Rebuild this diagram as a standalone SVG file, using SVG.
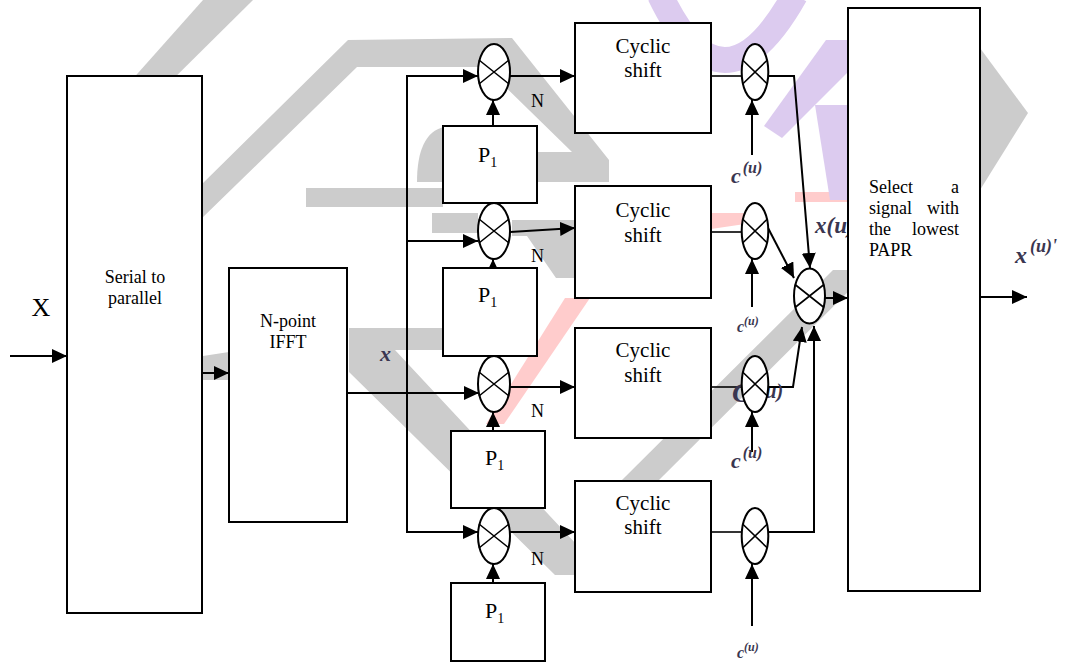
<svg xmlns="http://www.w3.org/2000/svg" width="1067" height="662" viewBox="0 0 1067 662">
<defs>
<marker id="ah" markerWidth="15" markerHeight="14" refX="15" refY="7" orient="auto" markerUnits="userSpaceOnUse"><path d="M0,0 L15,7 L0,14 Z" fill="#000"/></marker>
<style>
.box{fill:#fff;stroke:#000;stroke-width:2}
.mul{fill:#fff;stroke:#000;stroke-width:2}
.cr{stroke:#000;stroke-width:1.6;fill:none}
.ln{fill:none;stroke:#000;stroke-width:2}
.th{fill:none;stroke:#000;stroke-width:1.6}
.arr{marker-end:url(#ah)}
.t{font-family:"Liberation Serif","Times New Roman",serif;fill:#000}
.m{font-family:"Liberation Serif","Times New Roman",serif;font-style:italic;font-weight:bold;fill:#3a3650}
.wg{fill:#cccccc}
.wp{fill:#dccbef}
.wr{fill:#ffcccc}
</style>
</defs>
<rect width="1067" height="662" fill="#fff"/>
<g id="watermark">
<polygon class="wg" points="203,0 253,0 152,100 114,100"/>
<polygon class="wg" points="348,40 512,38 609,160 609,182 537,182 537,152 572,152 485,67 357,67 200,220 200,186"/>
<rect class="wg" x="306" y="188" width="137" height="19"/>
<path class="wg" d="M444,127 C426,131 417,150 417,182 L444,182 Z"/>
<polygon class="wg" points="432,213 478,213 478,233 432,233"/>
<polygon class="wg" points="512,220 575,220 575,278 556,278 527,236 512,236"/>
<polygon class="wg" points="349,328 443,328 443,350 395,350 577,545 577,575 555,575 349,372"/>
<polygon class="wg" points="203,356 229,352 229,380 203,380"/>
<polygon class="wg" points="620,482 657,482 870,270 833,270"/>
<polygon class="wg" points="980,48 1028,113 980,190"/>
<polygon class="wr" points="565,298 590,298 504,424 486,424"/>
<polygon class="wr" points="711,213 745,213 745,224 711,229"/>
<rect class="wr" x="795" y="192" width="53" height="10"/>
<path d="M660,-5 Q722,125 795,-5" stroke="#dccbef" stroke-width="26" fill="none"/>
<polygon class="wp" points="826,40 848,40 848,72 782,138 764,126"/>
<polygon class="wp" points="815,105 848,105 848,200 830,200"/>
</g>
<g id="connectors">
<line class="ln arr" x1="10" y1="356" x2="67" y2="356"/>
<line class="ln arr" x1="202" y1="373" x2="229" y2="373"/>
<line class="ln arr" x1="347" y1="393" x2="479" y2="393"/>
<line class="ln" x1="407" y1="75" x2="407" y2="533"/>
<line class="ln arr" x1="406" y1="76" x2="478" y2="76"/>
<line class="ln arr" x1="406" y1="241" x2="478" y2="241"/>
<line class="ln arr" x1="406" y1="532" x2="478" y2="532"/>
<line class="ln arr" x1="510" y1="76" x2="575" y2="76"/>
<line class="ln arr" x1="510" y1="232" x2="575" y2="228"/>
<line class="ln arr" x1="510" y1="387" x2="575" y2="387"/>
<line class="ln arr" x1="510" y1="532" x2="575" y2="532"/>
<line class="ln arr" x1="493" y1="126" x2="493" y2="100"/>
<line class="ln arr" x1="493" y1="276" x2="493" y2="259"/>
<line class="ln arr" x1="493" y1="431" x2="493" y2="412"/>
<line class="ln arr" x1="493" y1="583" x2="493" y2="564"/>
<line class="th" x1="711" y1="76" x2="742" y2="76"/>
<line class="th" x1="711" y1="232" x2="742" y2="232"/>
<line class="th" x1="711" y1="387" x2="742" y2="387"/>
<line class="th" x1="711" y1="532" x2="742" y2="532"/>
<polyline class="ln arr" points="768,76 794,76 810,268"/>
<line class="ln arr" x1="767" y1="226" x2="794" y2="278"/>
<polyline class="ln arr" points="768,387 793,387 802,327"/>
<polyline class="ln arr" points="768,532 814,532 814,326"/>
<line class="ln arr" x1="825" y1="298" x2="848" y2="298"/>
<line class="ln arr" x1="752" y1="155" x2="752" y2="100"/>
<line class="ln arr" x1="752" y1="307" x2="752" y2="259"/>
<line class="ln arr" x1="752" y1="452" x2="752" y2="412"/>
<line class="ln arr" x1="752" y1="626" x2="752" y2="564"/>
<line class="ln arr" x1="980" y1="297" x2="1027" y2="297"/>
</g>
<g id="labels">
<text class="t" x="41" y="316" font-size="26" text-anchor="middle">X</text>
<text class="m" x="380" y="361" font-size="22">x</text>
<text class="t" x="531" y="107" font-size="18">N</text>
<text class="t" x="531" y="262" font-size="18">N</text>
<text class="t" x="531" y="417" font-size="18">N</text>
<text class="t" x="531" y="565" font-size="18">N</text>
<text class="m" x="731" y="183" font-size="22">c<tspan font-size="16" dy="-10" dx="2">(u)</tspan></text>
<text class="m" x="737" y="332" font-size="16">c<tspan font-size="12" dy="-7">(u)</tspan></text>
<text class="m" x="731" y="468" font-size="22">c<tspan font-size="16" dy="-10" dx="2">(u)</tspan></text>
<text class="m" x="737" y="658" font-size="16">c<tspan font-size="12" dy="-7">(u)</tspan></text>
<text class="m" x="732" y="402" font-size="28">C<tspan font-size="20" dx="8" dy="-4">(u)</tspan></text>
<text class="m" x="815" y="233" font-size="23">x(u)</text>
<text class="m" x="1015" y="263" font-size="24">x<tspan font-size="18" dy="-11" dx="3">(u)'</tspan></text>
</g>
<g id="sp"><rect class="box" x="67" y="76" width="135" height="537"/>
<text class="t" x="135" y="283" font-size="18" text-anchor="middle">Serial to</text>
<text class="t" x="135" y="304" font-size="18" text-anchor="middle">parallel</text></g>
<g id="ifft"><rect class="box" x="229" y="268" width="118" height="254"/>
<text class="t" x="288" y="327" font-size="18" text-anchor="middle">N-point</text>
<text class="t" x="288" y="348" font-size="18" text-anchor="middle">IFFT</text></g>
<g id="mulL1"><ellipse class="mul" cx="494" cy="72" rx="16" ry="28"/><path class="cr" d="M479,60 L509,84 M479,84 L509,60"/></g>
<g id="mulL2"><ellipse class="mul" cx="494" cy="231" rx="16" ry="28"/><path class="cr" d="M479,219 L509,243 M479,243 L509,219"/></g>
<g id="mulL3"><ellipse class="mul" cx="494" cy="384" rx="16" ry="28"/><path class="cr" d="M479,372 L509,396 M479,396 L509,372"/></g>
<g id="mulL4"><ellipse class="mul" cx="494" cy="536" rx="16" ry="28"/><path class="cr" d="M479,524 L509,548 M479,548 L509,524"/></g>
<g id="p1a"><rect class="box" x="443" y="126" width="94" height="77"/><text class="t" x="478" y="162" font-size="22">P<tspan font-size="14" dy="5">1</tspan></text></g>
<g id="p1b"><rect class="box" x="443" y="268" width="94" height="88"/><text class="t" x="478" y="302" font-size="22">P<tspan font-size="14" dy="5">1</tspan></text></g>
<g id="p1c"><rect class="box" x="451" y="431" width="94" height="77"/><text class="t" x="485" y="465" font-size="22">P<tspan font-size="14" dy="5">1</tspan></text></g>
<g id="p1d"><rect class="box" x="451" y="583" width="94" height="78"/><text class="t" x="485" y="618" font-size="22">P<tspan font-size="14" dy="5">1</tspan></text></g>
<g id="cs1"><rect class="box" x="575" y="23" width="136" height="110"/><text class="t" x="643" y="53" font-size="21" text-anchor="middle">Cyclic</text><text class="t" x="643" y="77" font-size="21" text-anchor="middle">shift</text></g>
<g id="cs2"><rect class="box" x="575" y="186" width="136" height="112"/><text class="t" x="643" y="217" font-size="21" text-anchor="middle">Cyclic</text><text class="t" x="643" y="242" font-size="21" text-anchor="middle">shift</text></g>
<g id="cs3"><rect class="box" x="575" y="328" width="136" height="110"/><text class="t" x="643" y="357" font-size="21" text-anchor="middle">Cyclic</text><text class="t" x="643" y="382" font-size="21" text-anchor="middle">shift</text></g>
<g id="cs4"><rect class="box" x="575" y="481" width="136" height="111"/><text class="t" x="643" y="510" font-size="21" text-anchor="middle">Cyclic</text><text class="t" x="643" y="534" font-size="21" text-anchor="middle">shift</text></g>
<g id="mulR1"><ellipse class="mul" cx="755" cy="72" rx="13.3" ry="28"/><path class="cr" d="M742.6,60 L767.4,84 M742.6,84 L767.4,60"/></g>
<g id="mulR2"><ellipse class="mul" cx="755" cy="231" rx="13.3" ry="28"/><path class="cr" d="M742.6,219 L767.4,243 M742.6,243 L767.4,219"/></g>
<g id="mulR3"><ellipse class="mul" cx="755" cy="384" rx="13.3" ry="28"/><path class="cr" d="M742.6,372 L767.4,396 M742.6,396 L767.4,372"/></g>
<g id="mulR4"><ellipse class="mul" cx="755" cy="536" rx="13.3" ry="28"/><path class="cr" d="M742.6,524 L767.4,548 M742.6,548 L767.4,524"/></g>
<g id="combiner"><ellipse class="mul" cx="809.5" cy="296" rx="15.5" ry="27.5"/><path class="cr" d="M795,284.5 L824,307.5 M795,307.5 L824,284.5"/></g>
<g id="select"><rect class="box" x="848" y="8" width="132" height="583"/>
<text class="t" x="869" y="193" font-size="18">Select</text><text class="t" x="959" y="193" font-size="18" text-anchor="end">a</text>
<text class="t" x="869" y="214" font-size="18">signal</text><text class="t" x="959" y="214" font-size="18" text-anchor="end">with</text>
<text class="t" x="869" y="235" font-size="18">the</text><text class="t" x="959" y="235" font-size="18" text-anchor="end">lowest</text>
<text class="t" x="869" y="256" font-size="18">PAPR</text></g>
</svg>
